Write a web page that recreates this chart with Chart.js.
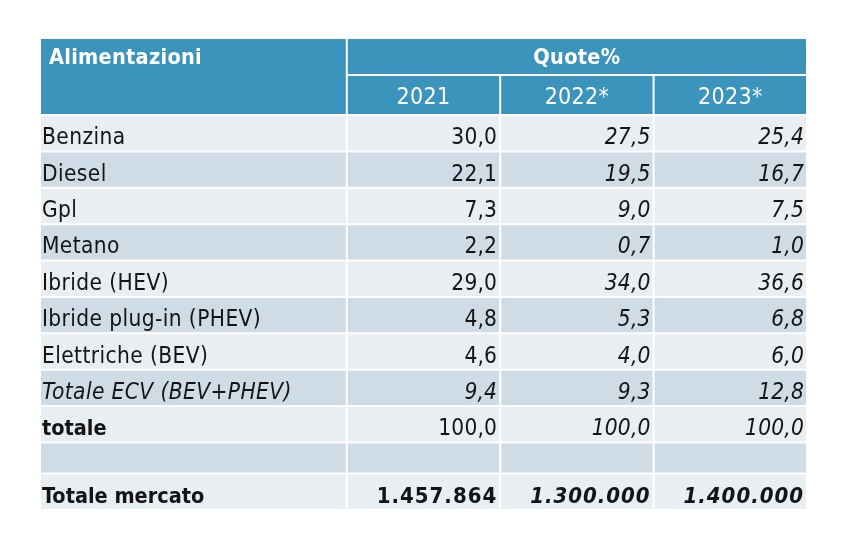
<!DOCTYPE html>
<html>
<head>
<meta charset="utf-8">
<script src="https://cdn.jsdelivr.net/npm/chart.js@4.4.0/dist/chart.umd.min.js"></script>
<style>
  html, body { margin: 0; padding: 0; background: #ffffff; }
  #wrap { width: 868px; height: 544px; }
</style>
</head>
<body>
<div id="wrap"><canvas id="tabella"></canvas></div>
<script>
// dati della tabella
const titoloRighe = 'Alimentazioni';
const titoloColonne = 'Quote%';
const anni = ['2021', '2022*', '2023*'];
const alimentazioni = ['Benzina', 'Diesel', 'Gpl', 'Metano', 'Ibride (HEV)', 'Ibride plug-in (PHEV)',
    'Elettriche (BEV)', 'Totale ECV (BEV+PHEV)', 'totale', '', 'Totale mercato'];
const quote2021 = [30.0, 22.1, 7.3, 2.2, 29.0, 4.8, 4.6, 9.4, 100.0];
const quote2022 = [27.5, 19.5, 9.0, 0.7, 34.0, 5.3, 4.0, 9.3, 100.0];
const quote2023 = [25.4, 16.7, 7.5, 1.0, 36.6, 6.8, 6.0, 12.8, 100.0];
const totaleMercato = [1457864, 1300000, 1400000];

const quote = [quote2021, quote2022, quote2023];

// layout: altezze delle righe (2 intestazioni + righe dati), centri delle colonne
const altezzeRighe = [37, 40, 36.4, 36.4, 36.4, 36.4, 36.4, 36.4, 36.4, 36.4, 36.4, 31, 36.5];
const bordiRighe = altezzeRighe.reduce((acc, h) => { acc.push(acc[acc.length - 1] + h); return acc; }, [0]);
const centriColonne = [1, 2.5, 3.5, 4.5];

const BLU = '#3a94bb';
const CHIARO = '#e9eef3';
const SCURO = '#cfdce6';
const FONT = "'DejaVu Sans Condensed', 'DejaVu Sans', sans-serif";

function fmtQuota(v) {
    return v.toFixed(1).replace('.', ',');
}
function fmtMercato(v) {
    return String(v).replace(/\B(?=(\d{3})+(?!\d))/g, '.');
}

function coloreRiga(r) {
    if (r < 2) return BLU;
    return (r - 2) % 2 ? SCURO : CHIARO;
}

function cella(x, rDa, rA) {
    return {x: x, y: [bordiRighe[rDa], bordiRighe[rA + 1]], riga: rDa};
}

const stileCelle = {
    type: 'bar',
    grouped: false,
    categoryPercentage: 1,
    inflateAmount: 0,
    borderSkipped: false,
    borderWidth: 1,
    borderColor: '#ffffff',
    backgroundColor: ctx => coloreRiga(ctx.raw.riga)
};

const datasets = [];
// prima colonna (larga due unità), con "Alimentazioni" su due righe
datasets.push(Object.assign({}, stileCelle, {
    barPercentage: 2,
    data: [cella(centriColonne[0], 0, 1)].concat(alimentazioni.map((a, i) => cella(centriColonne[0], i + 2, i + 2)))
}));
// "Quote%" sopra le tre colonne degli anni
datasets.push(Object.assign({}, stileCelle, {
    barPercentage: 3,
    data: [cella(centriColonne[2], 0, 0)]
}));
// colonne degli anni
anni.forEach((a, k) => {
    const cx = centriColonne[k + 1];
    datasets.push(Object.assign({}, stileCelle, {
        barPercentage: 1,
        data: [cella(cx, 1, 1)].concat(alimentazioni.map((n, i) => cella(cx, i + 2, i + 2)))
    }));
});

const testiTabella = {
    id: 'testiTabella',
    afterDatasetsDraw(chart) {
        const ctx = chart.ctx;
        const x = chart.scales.x;
        const y = chart.scales.y;
        const centroRiga = r => (y.getPixelForValue(bordiRighe[r]) + y.getPixelForValue(bordiRighe[r + 1])) / 2;
        const sinistra = x.getPixelForValue(0);
        const destra = k => x.getPixelForValue(centriColonne[k + 1] + 0.5);
        ctx.save();
        ctx.textBaseline = 'alphabetic';

        // intestazioni
        ctx.fillStyle = '#ffffff';
        ctx.letterSpacing = '0.3px';
        ctx.font = 'bold 21.5px ' + FONT;
        ctx.textAlign = 'left';
        ctx.fillText(titoloRighe, sinistra + 9, centroRiga(0) + 8);
        ctx.textAlign = 'center';
        ctx.fillText(titoloColonne, x.getPixelForValue(centriColonne[2]), centroRiga(0) + 8);
        ctx.font = '23px ' + FONT;
        anni.forEach((a, k) => {
            ctx.fillText(a, x.getPixelForValue(centriColonne[k + 1]), centroRiga(1) + 9);
        });

        // righe
        ctx.fillStyle = '#141414';
        alimentazioni.forEach((nome, i) => {
            const yy = centroRiga(i + 2) + 11;
            const ecv = nome.startsWith('Totale ECV');
            const tot = nome === 'totale';
            const merc = nome === 'Totale mercato';
            ctx.textAlign = 'left';
            ctx.letterSpacing = (tot || merc) ? '0px' : '0.4px';
            ctx.font = (ecv ? 'italic ' : '') + ((tot || merc) ? 'bold 21.5px ' : '22.5px ') + FONT;
            ctx.fillText(nome, sinistra + 2, yy);

            ctx.textAlign = 'right';
            ctx.letterSpacing = merc ? '1px' : '0.2px';
            for (let k = 0; k < 3; k++) {
                let testo = null;
                if (merc) testo = fmtMercato(totaleMercato[k]);
                else if (i < quote[k].length) testo = fmtQuota(quote[k][i]);
                if (testo === null) continue;
                const corsivo = k > 0 || ecv;
                ctx.font = (corsivo ? 'italic ' : '') + (merc ? 'bold 22px ' : '22.5px ') + FONT;
                ctx.fillText(testo, destra(k) - 3, yy);
            }
        });
        ctx.restore();
    }
};

new Chart(document.getElementById('tabella'), {
    type: 'bar',
    data: {
        datasets: datasets
    },
    options: {
        responsive: true,
        maintainAspectRatio: false,
        animation: false,
        events: [],
        layout: {
            padding: {left: 40, right: 61, top: 38, bottom: 34}
        },
        plugins: {
            legend: { display: false },
            tooltip: { enabled: false }
        },
        scales: {
            x: { type: 'linear', min: 0, max: 5, offset: false, ticks: { stepSize: 1 }, display: false },
            y: { type: 'linear', min: 0, max: bordiRighe[bordiRighe.length - 1], reverse: true, display: false }
        }
    },
    plugins: [testiTabella]
});
</script>
</body>
</html>
